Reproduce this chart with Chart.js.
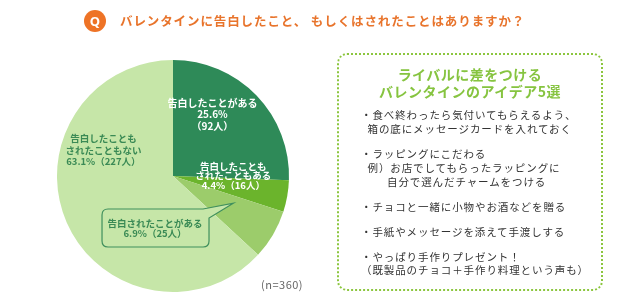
<!DOCTYPE html>
<html lang="ja">
<head>
<meta charset="utf-8">
<script src="https://cdn.jsdelivr.net/npm/chart.js@4.4.1/dist/chart.umd.min.js"></script>
<style>
  html, body { margin: 0; padding: 0; background: #fff; }
  body { width: 640px; height: 300px; position: relative; overflow: hidden;
         font-family: "Noto Sans CJK JP", "Noto Sans", sans-serif; }
  #chartWrap { position: absolute; left: 0; top: 0; width: 640px; height: 300px; }
  .q { position: absolute; left: 84px; top: 10px; width: 22px; height: 22px; border-radius: 50%;
       background: #ee7326; color: #fff; font: bold 13px "Noto Sans", sans-serif; text-align: center; line-height: 22px; }
  .title { position: absolute; left: 120px; top: 11px; color: #e8742c; font-weight: bold;
           font-size: 12.5px; letter-spacing: 0.9px; line-height: 20px; white-space: nowrap; }
  .box { position: absolute; left: 337px; top: 53px; width: 262px; height: 234px;
         border: 2px dotted #8cc63f; border-radius: 10px; }
  .box h3 { margin: 0; position: absolute; left: 0; right: 0; top: 11px; text-align: center;
            color: #86c440; font-size: 14px; line-height: 17px; font-weight: bold; letter-spacing: 0.5px; }
  .tips { position: absolute; left: 22px; top: 53px; color: #333; font-size: 10.5px; letter-spacing: 0.9px;
          line-height: 14px; white-space: nowrap; }
  .tips p { margin: 0 0 11px 0; }
  .n { position: absolute; left: 261px; top: 276px; color: #666; font-size: 11px; letter-spacing: 0.5px; }
</style>
</head>
<body>
<div id="chartWrap"><canvas id="pie"></canvas></div>
<div class="q">Q</div>
<div class="title">バレンタインに告白したこと、 もしくはされたことはありますか？</div>
<div class="box">
  <h3>ライバルに差をつける<br>バレンタインのアイデア5選</h3>
  <div class="tips">
    <p>・食べ終わったら気付いてもらえるよう、<br>&nbsp;&nbsp;箱の底にメッセージカードを入れておく</p>
    <p>・ラッピングにこだわる<br>&nbsp;&nbsp;例）お店でしてもらったラッピングに<br>&nbsp;&nbsp;&nbsp;&nbsp;&nbsp;&nbsp;&nbsp;&nbsp;自分で選んだチャームをつける</p>
    <p>・チョコと一緒に小物やお酒などを贈る</p>
    <p>・手紙やメッセージを添えて手渡しする</p>
    <p style="line-height:13px">・やっぱり手作りプレゼント！<br>（既製品のチョコ＋手作り料理という声も）</p>
  </div>
</div>
<div class="n">(n=360)</div>
<script>
// answers, clockwise from 12 o'clock
const categories = ['告白したことがある', '告白したこともされたこともある', '告白されたことがある', '告白したこともされたこともない'];
const percents = [25.6, 4.4, 6.9, 63.1];
const counts = [92, 16, 25, 227];
const colors = ['#2e8a58', '#6bb42c', '#9ccc6b', '#c6e6a8'];

// label layout per slice: lines, offset of first line from pie centre (in radius units), colour
const labelSpecs = [
    { lines: [categories[0], percents[0] + '%', '（' + counts[0] + '人）'], dx: 0.34, dy: -0.63, lh: 11.5, color: '#ffffff' },
    { lines: ['告白したことも', 'されたこともある', percents[1] + '%（' + counts[1] + '人）'], dx: 0.52, dy: -0.086, lh: 9.8, color: '#ffffff' },
    { lines: [categories[2], percents[2] + '%（' + counts[2] + '人）'], dx: -0.155, dy: 0.405, lh: 10.5, color: '#3a8a55', callout: true },
    { lines: ['告白したことも', 'されたこともない', percents[3] + '%（' + counts[3] + '人）'], dx: -0.6, dy: -0.32, lh: 11.5, color: '#3a8a55' }
];

const sliceLabels = {
    id: 'sliceLabels',
    afterDatasetsDraw(chart) {
        const ctx = chart.ctx;
        const arc = chart.getDatasetMeta(0).data[0];
        const cx = arc.x, cy = arc.y, r = arc.outerRadius;
        ctx.save();
        labelSpecs.forEach((s, i) => {
            const x = cx + s.dx * r;
            const y = cy + s.dy * r;
            if (s.callout) {
                // speech bubble pointing into the slice
                const l = x - 53, t = y - 14, w = 107, h = 38, rr = 6;
                ctx.beginPath();
                ctx.moveTo(l + rr, t);
                ctx.lineTo(l + w - 6, t);
                ctx.lineTo(cx + 0.52 * r, cy + 0.235 * r);
                ctx.lineTo(l + w, t + 9);
                ctx.lineTo(l + w, t + h - rr);
                ctx.quadraticCurveTo(l + w, t + h, l + w - rr, t + h);
                ctx.lineTo(l + rr, t + h);
                ctx.quadraticCurveTo(l, t + h, l, t + h - rr);
                ctx.lineTo(l, t + rr);
                ctx.quadraticCurveTo(l, t, l + rr, t);
                ctx.closePath();
                ctx.fillStyle = colors[3];
                ctx.fill();
                ctx.strokeStyle = '#3f8f5d';
                ctx.lineWidth = 1.2;
                ctx.stroke();
            }
            ctx.fillStyle = s.color;
            ctx.font = 'bold ' + (i === 0 ? 10 : 9.5) + 'px "Noto Sans CJK JP", sans-serif';
            ctx.textAlign = 'center';
            ctx.textBaseline = 'middle';
            s.lines.forEach((line, k) => {
                ctx.fillText(line, x, y + k * s.lh);
            });
        });
        ctx.restore();
    }
};

new Chart(document.getElementById('pie'), {
    type: 'pie',
    data: {
        labels: categories,
        datasets: [{
            data: percents,
            backgroundColor: colors,
            borderWidth: 0
        }]
    },
    options: {
        responsive: true,
        maintainAspectRatio: false,
        animation: false,
        layout: { padding: { left: 57, right: 351, top: 60, bottom: 8 } },
        plugins: {
            legend: { display: false },
            tooltip: { enabled: false }
        }
    },
    plugins: [sliceLabels]
});
</script>
</body>
</html>
